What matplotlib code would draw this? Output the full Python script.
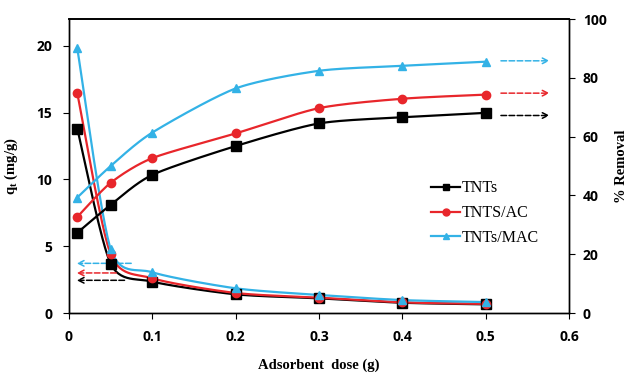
import numpy as np
import matplotlib.pyplot as plt

# adsorbent dose (g)
dose = [0.01, 0.05, 0.1, 0.2, 0.3, 0.4, 0.5]

# q_t (mg/g), left axis
q_tnts = [13.8, 3.7, 2.35, 1.4, 1.1, 0.77, 0.65]
q_ac = [16.45, 4.4, 2.6, 1.5, 1.15, 0.8, 0.68]
q_mac = [19.8, 4.8, 3.05, 1.85, 1.35, 0.97, 0.82]

# % removal, right axis
r_tnts = [27.3, 36.8, 47.0, 56.8, 64.5, 66.6, 68.1]
r_ac = [32.7, 44.3, 52.7, 61.1, 69.7, 72.9, 74.3]
r_mac = [39.3, 50.0, 61.4, 76.4, 82.4, 84.1, 85.5]

names = ["TNTs", "TNTS/AC", "TNTs/MAC"]
colors = ["black", "#e8262b", "#33b2e6"]
markers = ["s", "o", "^"]


def smooth(x, y, xr, yr, n=30, tension=0.75):
    # smoothed line like the spreadsheet one, worked out in screen pixels
    sx, sy = 500 / xr, 294 / yr
    pts = np.column_stack([np.asarray(x) * sx, np.asarray(y) * sy])
    ext = np.vstack([pts[0], pts, pts[-1]])
    tang = tension * (ext[2:] - ext[:-2]) / 2
    t = np.linspace(0, 1, n)[:, None]
    h00 = 2 * t**3 - 3 * t**2 + 1
    h10 = t**3 - 2 * t**2 + t
    h01 = -2 * t**3 + 3 * t**2
    h11 = t**3 - t**2
    out = []
    for i in range(len(pts) - 1):
        out.append(h00 * pts[i] + h10 * tang[i] + h01 * pts[i + 1] + h11 * tang[i + 1])
    out = np.vstack(out)
    return out[:, 0] / sx, out[:, 1] / sy


fig = plt.figure(figsize=(6.27, 3.74), dpi=100)
ax = fig.add_axes([0.110, 0.163, 0.7975, 0.786])
ax2 = ax.twinx()

tick_font = dict(family="Open Sans", weight="bold", size=10)
lab_font = dict(family="Liberation Serif", weight="bold", size=10.5)

handles = []
for q, r, c, m, nm in zip([q_tnts, q_ac, q_mac], [r_tnts, r_ac, r_mac], colors, markers, names):
    ms = 6.5 if m == "s" else 6
    sx, sy = smooth(dose, q, 0.6, 22)
    ax.plot(sx, sy, color=c, lw=1.6, zorder=3)
    ax.plot(dose, q, ls="none", marker=m, color=c, ms=ms, zorder=4)
    sx, sy = smooth(dose, r, 0.6, 100)
    ax2.plot(sx, sy, color=c, lw=1.6, zorder=3)
    ax2.plot(dose, r, ls="none", marker=m, color=c, ms=ms, zorder=4)
    handles.append(plt.Line2D([], [], color=c, lw=1.6, marker=m, ms=5))

# dashed arrows pointing to the axis each curve belongs to
left_arrows = [(0.07, 2.45), (0.06, 3.0), (0.078, 3.72)]
right_arrows = [67.2, 74.8, 85.8]
for c, (x0, y0), yr in zip(colors, left_arrows, right_arrows):
    ax.annotate("", xy=(0.006, y0), xytext=(x0, y0),
                arrowprops=dict(arrowstyle="->", ls="--", color=c, lw=1.1))
    ax2.annotate("", xy=(0.58, yr), xytext=(0.515, yr),
                 arrowprops=dict(arrowstyle="->", ls="--", color=c, lw=1.1))

ax.set_xlim(0, 0.6)
ax.set_ylim(0, 22)
ax2.set_ylim(0, 100)
ax.set_xticks([0, 0.1, 0.2, 0.3, 0.4, 0.5, 0.6])
ax.set_xticklabels(["0", "0.1", "0.2", "0.3", "0.4", "0.5", "0.6"], **tick_font)
ax.set_yticks([0, 5, 10, 15, 20])
ax.set_yticklabels(["0", "5", "10", "15", "20"], **tick_font)
ax2.set_yticks([0, 20, 40, 60, 80, 100])
ax2.set_yticklabels(["0", "20", "40", "60", "80", "100"], **tick_font)
ax.tick_params(direction="out", length=4, pad=8)
ax2.tick_params(direction="out", length=4, pad=6)

for a in (ax, ax2):
    for s in a.spines.values():
        s.set_linewidth(1.0)
    a.spines["top"].set_linewidth(1.2)

ax.set_xlabel("Adsorbent  dose (g)", labelpad=11, **lab_font)
ax.set_ylabel("q$_\\mathregular{t}$ (mg/g)", labelpad=12, **lab_font)
ax2.set_ylabel("% Removal", labelpad=6, **lab_font)

ax2.legend(handles, names, loc="center left", bbox_to_anchor=(0.665, 0.43),
           bbox_transform=fig.transFigure, frameon=False, handlelength=1.8,
           handletextpad=0.1, labelspacing=0.55,
           prop=dict(family="Liberation Serif", size=11.5))

fig.savefig("out.png", dpi=100)
